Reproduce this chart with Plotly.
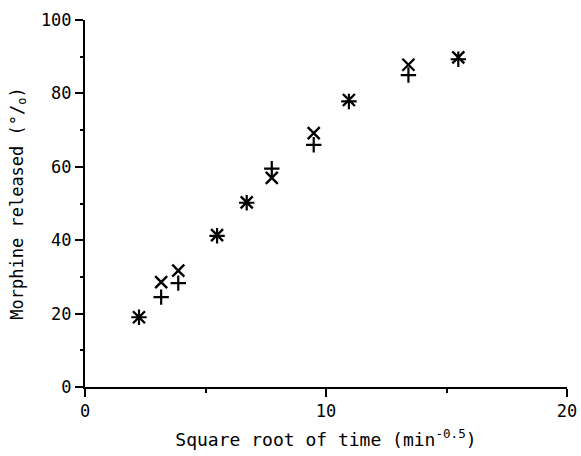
import plotly.graph_objects as go

# Square root of sampling time (min^0.5)
sqrt_time = [2.24, 3.16, 3.87, 5.48, 6.71, 7.75, 9.49, 10.95, 13.42, 15.49]

# Cumulative morphine released (%) for the two formulations
release_cross = [19.0, 24.5, 28.3, 41.2, 50.2, 59.5, 66.0, 77.8, 85.0, 89.3]
release_x = [19.0, 28.6, 31.7, 41.4, 50.3, 57.0, 69.2, 78.2, 87.8, 89.8]

fig = go.Figure()

fig.add_trace(go.Scatter(
    x=sqrt_time, y=release_cross, mode="markers",
    marker=dict(symbol="cross-thin", size=11, line=dict(width=2.2, color="black"), color="black"),
    showlegend=False, cliponaxis=False,
))
fig.add_trace(go.Scatter(
    x=sqrt_time, y=release_x, mode="markers",
    marker=dict(symbol="x-thin", size=12, line=dict(width=2.4, color="black"), color="black"),
    showlegend=False, cliponaxis=False,
))

font_family = "DejaVu Sans Mono"

fig.update_layout(
    width=581, height=456,
    margin=dict(l=85, r=14, t=20, b=69),
    paper_bgcolor="white", plot_bgcolor="white",
    font=dict(family=font_family, color="black", size=17),
    xaxis=dict(
        range=[0, 20], tickvals=[0, 10, 20], ticktext=["0", "10", "20"],
        showgrid=False, zeroline=False, automargin=False,
        showline=True, linecolor="black", linewidth=2,
        ticks="outside", ticklen=8, tickwidth=2, tickcolor="black",
        minor=dict(tickvals=[5, 15], ticks="outside", ticklen=4, tickwidth=2, tickcolor="black"),
        tickfont=dict(size=17, family=font_family),
        title=dict(text="Square root of time (min<sup>-0.5</sup>)",
                   font=dict(size=18, family=font_family), standoff=13),
    ),
    yaxis=dict(
        range=[0, 100], tickvals=[0, 20, 40, 60, 80, 100],
        showgrid=False, zeroline=False, automargin=False,
        showline=True, linecolor="black", linewidth=2,
        ticks="outside", ticklen=8, tickwidth=2, tickcolor="black",
        minor=dict(tickvals=[10, 30, 50, 70, 90], ticks="outside", ticklen=3, tickwidth=1.5, tickcolor="black"),
        tickfont=dict(size=17, family=font_family),
        title=dict(text="Morphine released (°/<sub>o</sub>)",
                   font=dict(size=17, family=font_family), standoff=13),
    ),
)

fig.write_html("out.html")
